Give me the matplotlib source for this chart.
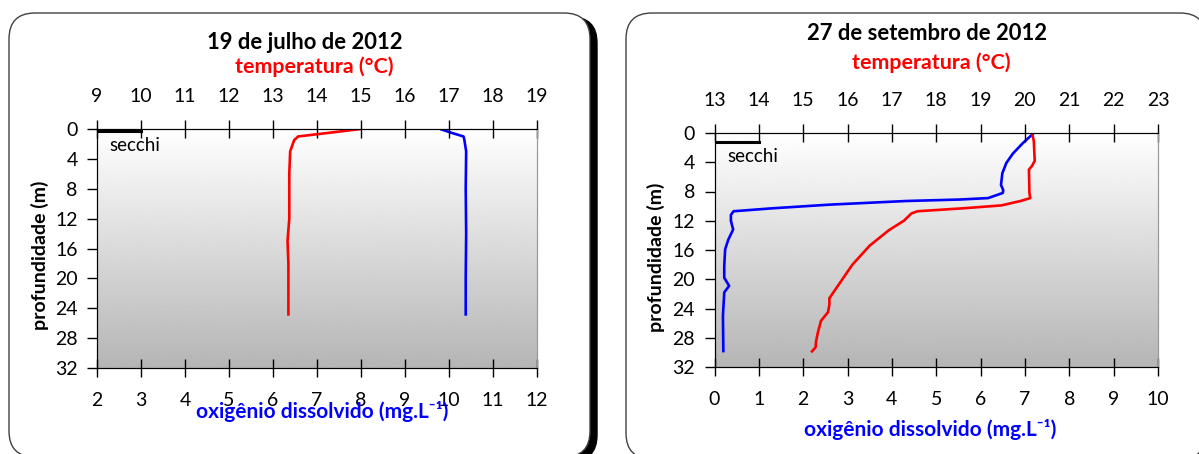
import numpy as np
import matplotlib
matplotlib.use("Agg")
import matplotlib.pyplot as plt
from matplotlib.patches import FancyBboxPatch

plt.rcParams['font.family'] = ['Lato', 'DejaVu Sans']

# 19 de julho de 2012
jul_temp_depth = [0, 1.0, 1.5, 3, 6, 10, 12, 15, 18, 22, 25]
jul_temp = [15.0, 13.57, 13.48, 13.39, 13.37, 13.37, 13.37, 13.33, 13.35, 13.35, 13.35]
jul_oxy_depth = [0, 0.5, 1.0, 1.5, 3, 8, 14, 20, 25]
jul_oxy = [9.8, 10.05, 10.33, 10.35, 10.39, 10.38, 10.39, 10.38, 10.38]
jul_secchi = 0.3

# 27 de setembro de 2012
set_oxy_depth = [0, 1.4, 2.8, 4.1, 5.5, 7.1, 7.8, 8.2, 8.9, 9.1, 9.3, 9.8, 10.3, 10.7,
                 11.2, 12.0, 13.2, 14.6, 15.9, 18.2, 19.8, 20.9, 21.8, 25, 30]
set_oxy = [7.2, 6.95, 6.73, 6.58, 6.49, 6.46, 6.51, 6.50, 6.17, 5.52, 4.32, 2.59, 1.3, 0.43,
           0.37, 0.37, 0.42, 0.31, 0.24, 0.22, 0.22, 0.33, 0.22, 0.19, 0.2]
set_temp_depth = [0, 1.1, 3.8, 4.5, 5.0, 8.2, 8.9, 9.3, 9.9, 10.3, 10.7, 11.0, 12.0, 13.3,
                  15.4, 18.0, 19.5, 22.6, 23.5, 24.5, 25.7, 27.3, 28.5, 29.3, 30]
set_temp = [20.16, 20.2, 20.22, 20.16, 20.09, 20.1, 20.12, 19.9, 19.47, 18.6, 17.58, 17.44,
            17.27, 16.93, 16.5, 16.11, 15.94, 15.59, 15.59, 15.56, 15.4, 15.33, 15.29, 15.28, 15.18]
set_secchi = 1.2

depth_ticks = [0, 4, 8, 12, 16, 20, 24, 28, 32]

fig = plt.figure(figsize=(11.99, 4.54), dpi=100)

# rounded frames drawn in pixel coordinates
bg = fig.add_axes([0, 0, 1, 1], zorder=-10)
bg.set_xlim(0, 1199)
bg.set_ylim(454, 0)
bg.axis('off')
bg.add_patch(FancyBboxPatch((15, 17), 582, 444, boxstyle="round,pad=0,rounding_size=26",
                            facecolor='black', edgecolor='black', lw=1))
bg.add_patch(FancyBboxPatch((9, 13), 581, 444, boxstyle="round,pad=0,rounding_size=26",
                            facecolor='white', edgecolor='#404040', lw=1))
bg.add_patch(FancyBboxPatch((626, 13), 580, 446, boxstyle="round,pad=0,rounding_size=26",
                            facecolor='white', edgecolor='#404040', lw=1))

grad = np.linspace(1.0, 0.71, 256).reshape(-1, 1)


def panel(rect, title, title_y, temp_lim, oxy_lim, temp_d, temp, oxy_d, oxy, secchi,
          temp_lab_y, oxy_lab_y, ylab_x):
    back = fig.add_axes(rect, zorder=0)
    back.imshow(grad, cmap='gray', vmin=0, vmax=1, aspect='auto', extent=[0, 1, 0, 1])
    back.axis('off')

    ax = fig.add_axes(rect, zorder=1)
    ax.set_facecolor('none')
    ax.set_xlim(*oxy_lim)
    ax.set_ylim(32, 0)
    ax.set_yticks(depth_ticks)
    ax.set_xticks(range(oxy_lim[0], oxy_lim[1] + 1))
    ax.tick_params(axis='x', direction='inout', length=13, width=1, pad=11, labelsize=14)
    ax.tick_params(axis='y', direction='out', length=7, width=1, pad=7, labelsize=14)
    ax.spines['right'].set_color('#999999')
    ax.plot(oxy, oxy_d, color='#0000ff', lw=1.9, solid_capstyle='butt')
    ax.plot([oxy_lim[0], oxy_lim[0] + 1], [secchi, secchi], color='black', lw=2.2)
    ax.text(oxy_lim[0] + 0.28, secchi + 0.8, 'secchi', fontsize=13.5, va='top', ha='left')
    ax.set_ylabel('profundidade (m)', fontsize=14, fontweight='bold')
    ax.yaxis.label.set_va('center')
    ax.yaxis.set_label_coords(ylab_x, 0.47)
    ax.set_xlabel('oxigênio dissolvido (mg.L⁻¹)', fontsize=15, fontweight='bold', color='#0000ff')
    ax.xaxis.label.set_va('center')
    ax.xaxis.set_label_coords(*oxy_lab_y)

    top = ax.twiny()
    top.set_xlim(*temp_lim)
    top.set_xticks(range(temp_lim[0], temp_lim[1] + 1))
    top.tick_params(axis='x', direction='inout', length=13, width=1, pad=11, labelsize=14)
    top.plot(temp, temp_d, color='#ff0000', lw=1.9, solid_capstyle='butt')
    top.spines['right'].set_color('#999999')

    ax.text(title_y[0], title_y[1], title, transform=ax.transAxes, ha='center', va='center',
            fontsize=15.8, fontweight='bold')
    ax.text(temp_lab_y[0], temp_lab_y[1], 'temperatura (°C)', transform=ax.transAxes,
            ha='center', va='center', fontsize=15.4, fontweight='bold', color='#ff0000')


panel([97 / 1199, 1 - 368 / 454, 440 / 1199, 239 / 454], '19 de julho de 2012', (0.472, 1.361),
      (9, 19), (2, 12), jul_temp_depth, jul_temp, jul_oxy_depth, jul_oxy, jul_secchi,
      (0.494, 1.261), (0.511, -0.183), -0.13)
panel([714.5 / 1199, 1 - 367 / 454, 443.5 / 1199, 234 / 454], '27 de setembro de 2012', (0.48, 1.426),
      (13, 23), (0, 10), set_temp_depth, set_temp, set_oxy_depth, set_oxy, set_secchi,
      (0.489, 1.302), (0.487, -0.269), -0.131)

fig.savefig('out.png', dpi=100)
